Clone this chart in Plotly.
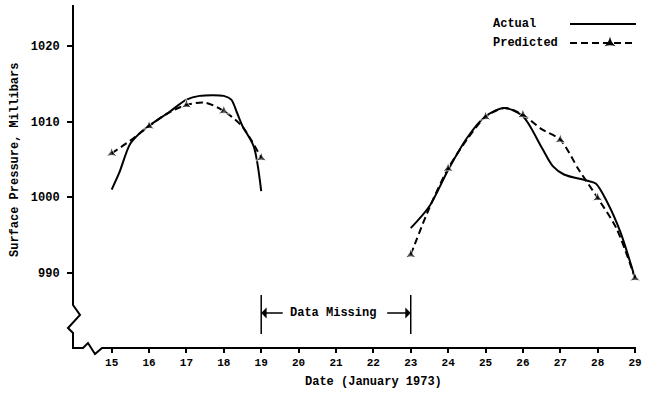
import plotly.graph_objects as go

# ---------------- data ----------------
day_ticks = list(range(15, 30))
pressure_ticks = [990, 1000, 1010, 1020]

actual_seg1_x = [15.0, 15.2, 15.5, 15.85, 16.55, 17.0, 17.35, 18.0, 18.2, 18.35, 18.5, 18.8, 19.0]
actual_seg1_y = [1001.0, 1003.2, 1007.1, 1008.9, 1011.3, 1012.9, 1013.4, 1013.4, 1012.9, 1011.2, 1009.4, 1006.7, 1000.8]

actual_seg2_x = [23.0, 23.5, 24.0, 24.5, 25.0, 25.5, 26.0, 26.5, 26.8, 27.1, 27.7, 27.95, 28.25, 28.6, 29.0]
actual_seg2_y = [995.9, 998.8, 1003.6, 1007.8, 1010.7, 1011.8, 1010.7, 1006.6, 1004.1, 1003.0, 1002.2, 1001.8, 999.4, 995.5, 989.3]

pred_seg1_x = [15.0, 15.5, 16.0, 16.5, 17.0, 17.5, 18.0, 18.5, 19.0]
pred_seg1_y = [1005.8, 1007.5, 1009.4, 1011.1, 1012.2, 1012.5, 1011.4, 1009.3, 1005.2]

pred_seg2_x = [23.0, 23.5, 24.0, 24.5, 25.0, 25.5, 26.0, 26.5, 27.0, 27.5, 28.0, 28.5, 29.0]
pred_seg2_y = [992.4, 998.6, 1003.8, 1007.6, 1010.6, 1011.8, 1010.9, 1009.0, 1007.6, 1003.6, 999.9, 995.9, 989.3]

missing_start, missing_end = 19, 23

# ---------------- layout helpers ----------------
W, H = 645, 394
L, R, T, B = 73, 0, 5, 46
PW, PH = W - L - R, H - T - B
def px(xp):
    return (xp - L) / PW
def py(yp):
    return (H - B - yp) / PH

FONT = "Liberation Mono"
INK = "black"

fig = go.Figure()

act_x = actual_seg1_x + [None] + actual_seg2_x
act_y = actual_seg1_y + [None] + actual_seg2_y
fig.add_trace(go.Scatter(x=act_x, y=act_y, mode="lines", name="Actual",
                         line=dict(color=INK, width=2, shape="spline", smoothing=0.8),
                         connectgaps=False, showlegend=False, cliponaxis=False))

pr_x = pred_seg1_x + [None] + pred_seg2_x
pr_y = pred_seg1_y + [None] + pred_seg2_y
sizes = [8 if (v is not None and float(v).is_integer()) else 0 for v in pr_x]
fig.add_trace(go.Scatter(x=pr_x, y=pr_y, mode="lines+markers", name="Predicted",
                         line=dict(color=INK, width=2, dash="7px,4px", shape="spline", smoothing=0.8),
                         marker=dict(symbol="star-triangle-up", size=sizes, color=INK),
                         connectgaps=False, showlegend=False, cliponaxis=False))

# legend key marker on an overlay paper-like axis
fig.add_trace(go.Scatter(x=[px(610)], y=[py(43)], mode="markers", xaxis="x2", yaxis="y2",
                         marker=dict(symbol="star-triangle-up", size=8, color=INK),
                         showlegend=False, hoverinfo="skip", cliponaxis=False))

shapes = []
# broken axes drawn as a path
pts = [(73, 5), (73, 305), (80, 315), (68, 328), (73, 333), (73, 348), (83, 348),
       (88, 343), (95, 354), (102, 348), (636, 348)]
path = "M " + " L ".join(f"{px(a):.5f},{py(b):.5f}" for a, b in pts)
shapes.append(dict(type="path", xref="paper", yref="paper", path=path,
                   line=dict(color=INK, width=2)))
# data missing bars
for xv in (missing_start, missing_end):
    shapes.append(dict(type="line", xref="x", yref="paper", x0=xv, x1=xv,
                       y0=py(334), y1=py(295), line=dict(color=INK, width=1.5)))
# legend key lines
shapes.append(dict(type="line", xref="paper", yref="paper", x0=px(570), x1=px(636),
                   y0=py(24), y1=py(24), line=dict(color=INK, width=2)))
shapes.append(dict(type="line", xref="paper", yref="paper", x0=px(570), x1=px(636),
                   y0=py(43), y1=py(43), line=dict(color=INK, width=2, dash="7px,4px")))

bold = dict(family=FONT, size=12, color=INK, weight="bold")
annotations = [
    dict(text="Actual", x=px(491), y=py(24), xref="paper", yref="paper",
         xanchor="left", yanchor="middle", showarrow=False, font=bold),
    dict(text="Predicted", x=px(491), y=py(43), xref="paper", yref="paper",
         xanchor="left", yanchor="middle", showarrow=False, font=bold),
    dict(text="Data Missing", x=(missing_start + missing_end) / 2 - 0.09, y=py(313),
         xref="x", yref="paper", xanchor="center", yanchor="middle",
         showarrow=False, font=bold),
    dict(text="", x=missing_start, y=py(313), xref="x", yref="paper",
         ax=23, ay=0, showarrow=True, arrowhead=1, arrowsize=1.2, arrowwidth=1.5,
         arrowcolor=INK),
    dict(text="", x=missing_end, y=py(313), xref="x", yref="paper",
         ax=-25, ay=0, showarrow=True, arrowhead=1, arrowsize=1.2, arrowwidth=1.5,
         arrowcolor=INK),
    dict(text="Surface Pressure, Millibars", x=px(15), y=py(160), xref="paper", yref="paper",
         textangle=-90, xanchor="center", yanchor="middle", showarrow=False, font=bold),
    dict(text="Date (January 1973)", x=px(373), y=py(382), xref="paper", yref="paper",
         xanchor="center", yanchor="middle", showarrow=False, font=bold),
]

fig.update_layout(
    width=W, height=H,
    margin=dict(l=L, r=R, t=T, b=B, autoexpand=False),
    paper_bgcolor="white", plot_bgcolor="white",
    showlegend=False,
    shapes=shapes, annotations=annotations,
    xaxis=dict(range=[13.965, 29.267], tickvals=day_ticks,
               ticktext=[str(d) for d in day_ticks], automargin=False,
               ticks="outside", ticklen=4, tickwidth=1.5, tickcolor=INK,
               showline=False, showgrid=False, zeroline=False,
               tickfont=dict(family=FONT, size=11, color=INK, weight="bold")),
    yaxis=dict(range=[980.05, 1025.42], tickvals=pressure_ticks,
               ticktext=[str(v) for v in pressure_ticks], automargin=False,
               ticks="outside", ticklen=5, tickwidth=1.5, tickcolor=INK,
               ticklabelstandoff=5,
               showline=False, showgrid=False, zeroline=False,
               tickfont=dict(family=FONT, size=12, color=INK, weight="bold")),
    xaxis2=dict(range=[0, 1], overlaying="x", visible=False, automargin=False),
    yaxis2=dict(range=[0, 1], overlaying="y", visible=False, automargin=False),
)

# remove the page's default body margin so the figure sits at the window's corner
fig.write_html("out.html", config={"displayModeBar": False},
               post_script="document.body.style.margin='0px';document.body.style.padding='0px';")
